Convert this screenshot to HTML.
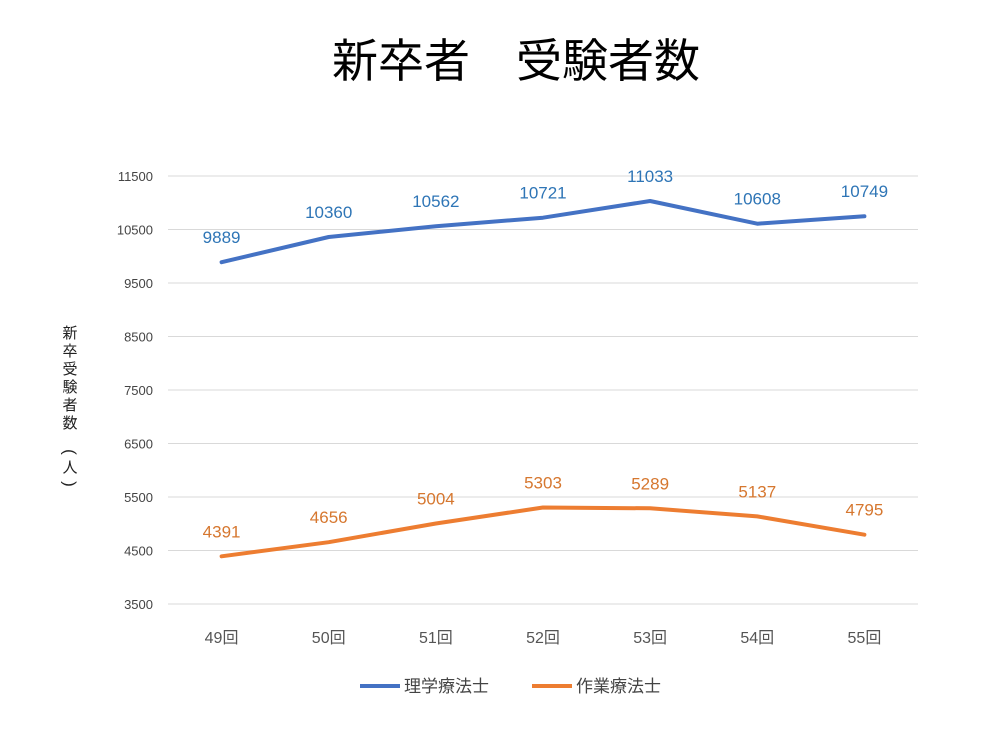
<!DOCTYPE html>
<html><head><meta charset="utf-8">
<style>
html,body{margin:0;padding:0;background:#fff;}
body{width:1000px;height:735px;overflow:hidden;font-family:"Liberation Sans","Noto Sans CJK JP",sans-serif;}
</style></head>
<body>
<svg id="chart" width="1000" height="735" xmlns="http://www.w3.org/2000/svg" font-family="Liberation Sans, Noto Sans CJK JP, sans-serif">
<text x="516" y="77" text-anchor="middle" font-size="46" fill="#000">新卒者　受験者数</text>
<g font-size="15" fill="#222" text-anchor="middle">
<text x="70" y="338">新</text><text x="70" y="356">卒</text><text x="70" y="374">受</text><text x="70" y="392">験</text><text x="70" y="410">者</text><text x="70" y="428">数</text>
<text x="70" y="452" dominant-baseline="central" transform="rotate(90 70 452)" font-size="17">(</text>
<text x="70" y="468" dominant-baseline="central">人</text>
<text x="70" y="484" dominant-baseline="central" transform="rotate(90 70 484)" font-size="17">)</text>
</g>
<g id="grid"></g>
<g id="yticks"></g>
<g id="xticks"></g>
<g id="series"></g>
<g>
<g><line x1="360" y1="686" x2="400" y2="686" stroke="#4472c4" stroke-width="4"/><text x="404" y="692" font-size="17" fill="#444">理学療法士</text></g>
<g><line x1="532" y1="686" x2="572" y2="686" stroke="#ed7d31" stroke-width="4"/><text x="576" y="692" font-size="17" fill="#444">作業療法士</text></g>
</g>
</svg>
<script>
const categories = ["49回","50回","51回","52回","53回","54回","55回"];
const ptValues = [9889,10360,10562,10721,11033,10608,10749];
const otValues = [4391,4656,5004,5303,5289,5137,4795];
const yTicks = [3500,4500,5500,6500,7500,8500,9500,10500,11500];

const NS="http://www.w3.org/2000/svg";
const left=168,right=918,yMin=3500,yMax=11500,yTop=176,yBot=604;
const band=(right-left)/categories.length;
const xs=i=>left+band*(i+0.5);
const ys=v=>yBot-(v-yMin)/(yMax-yMin)*(yBot-yTop);
function mk(tag,attrs,parent,txt){const e=document.createElementNS(NS,tag);for(const k in attrs)e.setAttribute(k,attrs[k]);if(txt!==undefined)e.textContent=txt;parent.appendChild(e);return e;}
const grid=document.getElementById('grid'),yt=document.getElementById('yticks'),xt=document.getElementById('xticks'),ser=document.getElementById('series');
yTicks.forEach(t=>{
  const l=mk('line',{x1:left,x2:right,y1:ys(t),y2:ys(t),stroke:'#d9d9d9','stroke-width':1},grid);
  
  
  const tx=mk('text',{x:153,y:ys(t)+5,'text-anchor':'end','font-size':13,fill:'#444'},yt,String(t));
  
  
});
categories.forEach((c,i)=>{
  const tx=mk('text',{x:xs(i),y:643,'text-anchor':'middle','font-size':16,fill:'#555'},xt,c);
  
  
});
function drawSeries(vals,color,labelColor,name){
  const pts=vals.map((v,i)=>xs(i).toFixed(1)+','+ys(v).toFixed(1)).join(' ');
  const pl=mk('polyline',{points:pts,fill:'none',stroke:color,'stroke-width':4,'stroke-linejoin':'round','stroke-linecap':'round'},ser);
  
  
  vals.forEach((v,i)=>{
    const tx=mk('text',{x:xs(i),y:ys(v)-19,'text-anchor':'middle','font-size':17,fill:labelColor},ser,String(v));
    
    
  });
}
drawSeries(ptValues,'#4472c4','#2e75b6','pt');
drawSeries(otValues,'#ed7d31','#d6772f','ot');
</script>
</body></html>
